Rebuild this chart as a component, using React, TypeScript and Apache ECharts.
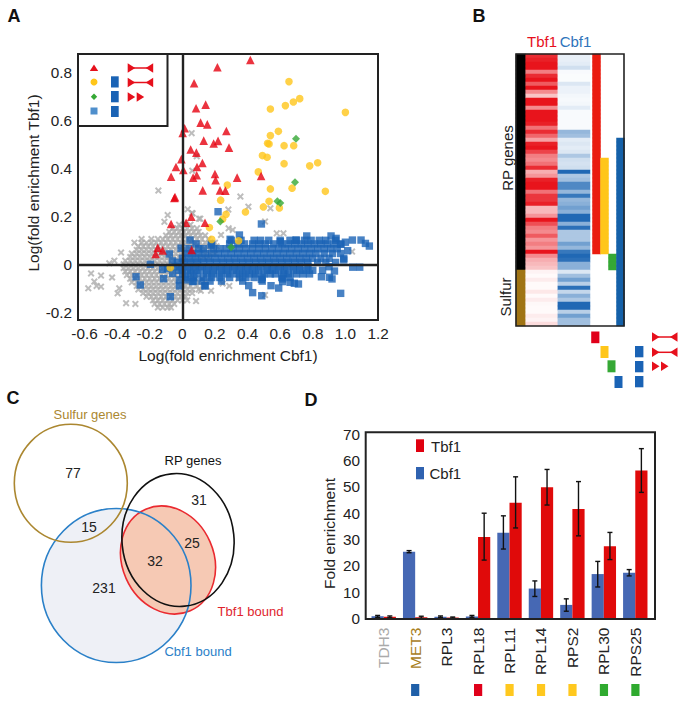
import React, { useEffect, useRef } from "react";
import * as echarts from "echarts";

// ---- Panel A data (log fold enrichment Cbf1, Tbf1) ----
const redPoints = [[.417,.851],[.215,.821],[.072,.754],[.084,.65],[.143,.665],[.112,.59],[.153,.583],[.014,.567],[.002,.547],[.27,.555],[.131,.515],[.192,.503],[.219,.514],[.286,.486],[.051,.478],[.086,.465],[-.006,.438],[.123,.422],[.09,.405],[.006,.393],[.2,.376],[.088,.371],[.066,.361],[.204,.35],[.336,.361],[.483,.368],[.231,.308],[.264,.307],[.125,.308],[.055,.198],[-.039,.405],[-.069,.365],[-.049,.276],[-.045,.28],[-.069,.168],[.023,.173],[.139,.173],[-.151,.069],[-.121,.058],[-.164,.043],[.057,.06]];
const yellowPoints = [[.654,.761],[.54,.647],[.632,.661],[.681,.676],[.72,.69],[1.0,.633],[.589,.554],[.54,.536],[.523,.504],[.532,.501],[.624,.494],[.683,.494],[.491,.453],[.52,.446],[.624,.419],[.781,.41],[.83,.423],[.466,.385],[.276,.33],[.54,.314],[.673,.317],[.877,.304],[.235,.267],[.532,.2625],[.497,.239],[.595,.235],[.387,.218],[.268,.208],[.247,.188],[.166,.153],[.18,.104],[.345,.098],[-.074,-.014]];
const greenPoints = [[.697,.523],[.691,.342],[.583,.2625],[.601,.255],[.233,.178],[.299,.071]];
const blueSingles = [[.219,.219],[.485,.168],[.139,-.089],[.407,-.089],[.431,-.118],[.487,-.131],[.544,-.089],[.591,-.099],[.971,-.121],[.661,-.075],[.687,-.079],[.712,-.082],[.853,-.052],[.902,-.054],[.918,-.061],[.615,-.061],[.615,-.072],[1.045,-.012],[1.088,-.012],[1.147,.076],[1.123,.087],[1.096,.101],[1.043,.101],[1.0,.092],[.973,.083],[1.014,.057],[.99,.018],[.912,.118],[.943,.108],[.763,.118],[.35,.122],[.293,.104],[.601,.094],[.697,.101],[.933,-.028],[.485,-.063],[-.08,.043],[-.061,.014],[-.196,0],[-.121,-.021],[-.09,-.017],[-.06,-.038],[-.018,-.065],[-.018,-.09],[-.284,-.052],[-.258,-.086],[-.115,-.06],[-.074,-.135],[.139,-.09],[.063,-.072],[.023,-.065],[.047,.101],[.084,.085],[-.008,.067],[.176,.08]];
// rows: y, then x values, all in hundredths
const blueRows = [
  [10,30,36,44,48,53,60,66,70,75,79,84,88,94],
  [8.5,18,29,34,38,43,47,51,56,61,65,69,73,77,81,85,89,93,97],
  [6.5,4,10,13,19,23,27,31,35,39,43,47,51,55,59,63,67,71,75,79,83,87,91,95],
  [4.5,2,6,10,14,18,22,26,30,34,38,42,46,50,54,58,62,66,70,74,78,82,87,92,97],
  [2.5,0,4,8,12,16,20,24,28,32,36,40,44,48,52,56,60,64,68,72,76,80,85,90,99],
  [.8,-3,1,5,9,13,17,21,25,29,33,37,41,45,49,53,57,61,65,69,73,77,83,88,94],
  [-1,-4,0,4,8,12,16,20,24,28,32,36,40,44,48,52,56,60,64,68,72,77,90],
  [-2.5,-2,3,7,11,15,19,23,27,31,35,39,43,47,52,55,59,63,68,72,76,80,86],
  [-4,0,5,9,15,19,24,28,33,37,41,45,50,54,57,62,65,70,74,78],
  [-5.5,2,7,13,18,23,29,35,39,44,49,61,66],
  [-7,7,12,17,24,37,49]
];
const grayOutliers = [[-.56,-.038],[-.499,-.047],[-.577,-.1],[-.54,-.072],[-.526,-.09],[-.499,-.093],[-.431,-.055],[-.387,-.1],[-.397,-.121],[-.345,-.162],[-.288,-.165],[.084,-.153],[-.147,.307],[-.09,.205],[-.11,.177],[.033,.229],[.063,.212],[.102,.19],[-.294,.09],[-.376,.049],[-.417,.015],[-.448,.004],[.057,.546],[.088,.45],[.061,.39],[.356,.282],[.282,.228],[.405,.24],[.54,.233],[.059,.214],[.11,.19],[.507,.178],[.579,.129],[.62,.129],[.284,.15],[.309,.143],[.237,.122],[1.041,.053],[.344,-.059],[.247,-.08],[.288,-.09],[.507,-.128],[.176,-.11],[.113,-.11]];
const grayRows = [
  [16.5,-2,1,5],
  [15,-6,-3,0,3,6,9],
  [13.5,-8,-5,-2,1,4,7,10],
  [12,-10,-7,-4,-1,2,5,8,11,14],
  [10.5,-25,-19,-15,-12,-9,-6,-3,0,3,6,9,12,16],
  [9,-25,-22,-19,-16,-13,-10,-7,-4,-1,2,5,8,11,14,17,20],
  [7.5,-27,-24,-21,-18,-15,-12,-9,-6,-3,0,3,6,9,12,15,18,21],
  [6,-28,-25,-22,-19,-16,-13,-10,-7,-4,-1,2,5,8,11,14,17,20],
  [4.5,-31,-28,-25,-22,-19,-16,-13,-10,-7,-4,-1,2,5,8,11,14,17,20],
  [3,-32,-29,-26,-23,-20,-17,-14,-11,-8,-5,-2,1,4,7,10,13,16],
  [1.5,-35,-32,-29,-26,-23,-20,-17,-14,-11,-8,-5,-2,1,4,7,10],
  [0,-36,-33,-30,-27,-24,-21,-18,-15,-12,-9,-6,-3,0,3,6,9],
  [-1.5,-36,-33,-30,-27,-24,-21,-18,-15,-12,-9,-6,-3,0,3,6,9],
  [-3,-35,-32,-29,-26,-23,-20,-17,-14,-11,-8,-5,-2,1,4,7],
  [-4.5,-34,-31,-28,-25,-22,-19,-16,-13,-10,-7,-4,-1,2,5],
  [-6,-32,-29,-26,-23,-20,-17,-14,-11,-8,-5,-2,1,4,8,12],
  [-7.5,-31,-28,-25,-22,-19,-16,-13,-10,-7,-4,-1,3,6,10,14],
  [-9,-28,-25,-22,-19,-16,-13,-10,-7,-4,-1,2,5,9,13],
  [-10.5,-27,-24,-21,-18,-15,-12,-9,-6,-3,0,3,6,10],
  [-12,-24,-21,-18,-15,-12,-9,-6,-3,0,3,6],
  [-13.5,-22,-19,-16,-13,-10,-7,-4,-1,2],
  [-15,-18,-15,-12,-9,-6,-3,0,3],
  [-16.5,-17,-14,-11,-8,-5],
  [-18,-15,-12,-9,-7]
];
const xTicksA = [-.6,-.4,-.2,0,.2,.4,.6,.8,1.0,1.2];
const yTicksA = [-.2,0,.2,.4,.6,.8];

// ---- Panel B data ----
const tbf1Heat = [.9,.95,1,1,.55,.9,1,.7,1,.5,.25,1,1,.5,1,1,1,.95,.6,.9,.65,.4,.95,1,.8,.55,.5,.6,.9,.35,.45,.95,1,1,.6,.85,.85,.95,.3,.3,.45,1,.75,.55,.5,.7,.45,.55,.45,1,.5,.35,.3,.25,.05,.02,.08,.02,.02,.1,.02,.08,.03,.02,.02,.08,.05,.15];
const cbf1Heat = [.1,.1,.12,.2,.03,.02,.02,.15,.08,.08,.05,.04,.05,.12,.03,.03,.03,.03,.03,.45,.4,.12,.15,.12,.15,.35,.2,.18,.2,.95,.35,.4,.75,.75,.45,.85,.45,.5,.6,.5,.95,.95,.5,.9,.35,.35,.35,.6,.45,.85,.95,.9,.5,.5,.15,.4,.6,.3,.9,.25,.5,.35,.95,.95,.3,.6,.4,.4];
const rowIds = tbf1Heat.map((_, i) => String(i));
const stripRanges = [[0, 53, 1], [54, 67, 2]];
const memberRanges = [[0, 0, 49, 3], [1, 26, 49, 4], [2, 50, 53, 5], [3, 21, 67, 6]];

// ---- Panel D data ----
const genes = ["TDH3","MET3","RPL3","RPL18","RPL11","RPL14","RPS2","RPL30","RPS25"];
const geneColors = ["#aaaaaa","#a8801e","#222222","#222222","#222222","#222222","#222222","#222222","#222222"];
const chipColors = ["","#1f5fa8","","#e0001a","#ffc81e","#ffc81e","#ffc81e","#2faa2f","#2faa2f"];
const cbf1Values = [.9,25.4,.7,.8,32.6,11.4,5.2,16.9,17.4];
const tbf1Values = [.7,.5,.4,31,44,49.8,41.6,27.5,56.2];
const cbf1Low = [.5,25,.4,.5,26.4,8.4,2.8,12,16.2];
const cbf1High = [1.2,25.8,1,1.2,39,14.3,7.5,21.7,18.6];
const tbf1Low = [.3,.1,.2,22.2,34.4,43.1,31.4,22.4,47.9];
const tbf1High = [1,.9,.6,40,53.8,56.6,52,32.7,64.5];
const yTicksD = [0,10,20,30,40,50,60,70];

const FONT = "Liberation Sans";
const INK = "#222222";
const RED = "#e6101c";
const BLUE = "#1a63b5";
const YELLOW = "#ffc61a";
const GREEN = "#35a835";

const fromRows = (rows: number[][]) =>
  rows.flatMap((r) => r.slice(1).map((x) => [x / 100, r[0] / 100]));

const XMARK = "path://M2 0L5 3L8 0L10 2L7 5L10 8L8 10L5 7L2 10L0 8L3 5L0 2Z";

function text(x: number, y: number, t: string, size: number, color = INK, extra: any = {}) {
  const { rotation, weight, align } = extra;
  return {
    type: "text", x, y, rotation: rotation || 0, z: 100,
    style: { text: t, fontSize: size, fontFamily: FONT, fontWeight: weight || "normal", fill: color, align: align || "center", verticalAlign: "middle" }
  };
}
function rect(x: number, y: number, w: number, h: number, fill: string) {
  return { type: "rect", z: 100, shape: { x, y, width: w, height: h }, style: { fill } };
}
function box(x: number, y: number, w: number, h: number, lw = 2, fill = "none") {
  return { type: "rect", z: 95, shape: { x, y, width: w, height: h }, style: { fill, stroke: INK, lineWidth: lw } };
}
function tri(x0: number, x1: number, yc: number, h: number) {
  return { type: "polygon", z: 100, shape: { points: [[x0, yc - h / 2], [x0, yc + h / 2], [x1, yc]] }, style: { fill: RED } };
}
function motif(x: number, y1: number, y2: number, y3: number) {
  const out: any[] = [];
  [y1, y2].forEach((y) => {
    out.push(tri(x, x + 7.5, y, 9.5), tri(x + 25.5, x + 18, y, 9.5));
    out.push({ type: "line", z: 100, shape: { x1: x + 4, y1: y, x2: x + 22, y2: y }, style: { stroke: RED, lineWidth: 1.5 } });
  });
  out.push(tri(x, x + 7.5, y3, 9.5), tri(x + 9, x + 16.5, y3, 9.5));
  return out;
}
function ell(cx: number, cy: number, rx: number, ry: number, rot: number, stroke: string, fill = "none", lw = 1.6) {
  return { type: "ellipse", z: 90, x: cx, y: cy, rotation: rot, shape: { cx: 0, cy: 0, rx, ry }, style: { stroke, fill, lineWidth: lw } };
}

function buildOption() {
  const bandD = 31.46;
  const graphic: any[] = [
    text(14, 16, "A", 18, "#111", { weight: "bold" }),
    text(479, 16, "B", 18, "#111", { weight: "bold" }),
    text(13, 398, "C", 18, "#111", { weight: "bold" }),
    text(311, 400, "D", 18, "#111", { weight: "bold" }),
    // panel A inset legend
    box(78, 54, 89.5, 72, 2, "#ffffff"),
    { type: "polygon", z: 100, shape: { points: [[94, 64.5], [89.8, 71], [98.2, 71]] }, style: { fill: RED } },
    { type: "circle", z: 100, shape: { cx: 94, cy: 82, r: 3.5 }, style: { fill: YELLOW } },
    { type: "polygon", z: 100, shape: { points: [[94, 93.5], [97.2, 96.7], [94, 100], [90.8, 96.7]] }, style: { fill: GREEN } },
    rect(90.5, 107.5, 7, 7, "#4f8fcc"),
    rect(111, 76.3, 7.7, 11.2, BLUE), rect(111, 91, 7.7, 11.3, BLUE), rect(111, 106, 7.7, 11, BLUE),
    ...motif(127.7, 68, 82.5, 97),
    // panel B
    text(542, 41, "Tbf1", 15, RED),
    text(575.5, 41, "Cbf1", 15, "#2f74bb"),
    text(507, 158, "RP genes", 15, INK, { rotation: Math.PI / 2 }),
    text(505.5, 297, "Sulfur", 15, INK, { rotation: Math.PI / 2 }),
    box(516, 54, 108, 272, 1.6),
    rect(591.2, 331.5, 8.2, 11.7, "#e0001a"),
    rect(600.5, 346, 8, 12, YELLOW),
    rect(607.5, 360.3, 8, 12, GREEN),
    rect(614.5, 376, 8, 12, BLUE),
    rect(635, 346, 8.4, 11.3, BLUE), rect(635, 361, 8.4, 11.3, BLUE), rect(635, 376, 8.4, 11.3, BLUE),
    ...motif(652, 337, 352.3, 366.3),
    // panel C
    ell(116.2, 585.5, 74.8, 77, 0, "none", "#eef0f6", 0),
    ell(168, 560, 45.8, 55.4, 0.414, "#ea2a30", "#f6c9b4", 1.6),
    ell(116.2, 585.5, 74.8, 77, 0, "#2a80c8"),
    ell(178, 540, 56, 66.5, 0.1, "#111111"),
    ell(70.8, 483.3, 56.5, 59, 0, "#ab8730"),
    text(90, 414, "Sulfur genes", 13, "#ab8730"),
    text(193, 460, "RP genes", 13, "#111"),
    text(250.5, 611, "Tbf1 bound", 13, "#e0242c"),
    text(198, 651, "Cbf1 bound", 13, "#2a80c8"),
    text(73, 473, "77", 14), text(89, 527, "15", 14), text(104, 588, "231", 14),
    text(155, 561, "32", 14), text(192, 543, "25", 14), text(199, 500, "31", 14),
    // panel D
    box(365.7, 432.3, 289.3, 186.7, 2),
    rect(416, 439.3, 8, 12.7, "#e0000f"), text(431, 446, "Tbf1", 15, INK, { align: "left" }),
    rect(416, 467, 8, 12.3, "#2f62b0"), text(429.5, 473.5, "Cbf1", 15, INK, { align: "left" })
  ];
  chipColors.forEach((c, i) => {
    if (c) graphic.push(rect(368 + bandD * (i + 0.5) - 4.1, 684, 8.2, 12, c));
  });

  const hiddenCat = (gridIndex: number, data: string[], inverse = false) => ({
    type: "category", gridIndex, data, show: false, inverse
  });

  const series: any[] = [
    { type: "scatter", xAxisIndex: 0, yAxisIndex: 0, symbol: XMARK, symbolSize: 7, itemStyle: { color: "#adadad" }, data: [...fromRows(grayRows), ...grayOutliers] },
    { type: "scatter", xAxisIndex: 0, yAxisIndex: 0, symbol: "rect", symbolSize: 7.4, itemStyle: { color: BLUE }, data: [...fromRows(blueRows), ...blueSingles] },
    { type: "scatter", xAxisIndex: 0, yAxisIndex: 0, symbol: "circle", symbolSize: 7.6, itemStyle: { color: YELLOW }, data: yellowPoints },
    { type: "scatter", xAxisIndex: 0, yAxisIndex: 0, symbol: "triangle", symbolSize: 8.6, itemStyle: { color: "#e6000f" }, data: redPoints },
    {
      type: "scatter", xAxisIndex: 0, yAxisIndex: 0, symbol: "diamond", symbolSize: 8, itemStyle: { color: GREEN }, data: greenPoints,
      markLine: {
        silent: true, symbol: "none", label: { show: false }, animation: false,
        lineStyle: { color: INK, width: 2.4, type: "solid" },
        data: [{ xAxis: 0 }, { yAxis: 0 }]
      }
    },
    {
      type: "heatmap", xAxisIndex: 1, yAxisIndex: 1,
      data: stripRanges.flatMap(([a, b, v]) => rowIds.slice(a, b + 1).map((r) => [0, r, v]))
    },
    { type: "heatmap", xAxisIndex: 2, yAxisIndex: 2, data: tbf1Heat.map((v, i) => [0, String(i), v]) },
    { type: "heatmap", xAxisIndex: 2, yAxisIndex: 2, data: cbf1Heat.map((v, i) => [1, String(i), v]) },
    {
      type: "heatmap", xAxisIndex: 3, yAxisIndex: 3,
      data: memberRanges.flatMap(([c, a, b, v]) => rowIds.slice(a, b + 1).map((r) => [c, r, v]))
    },
    { type: "bar", xAxisIndex: 4, yAxisIndex: 4, barWidth: "38.8%", barGap: 0, itemStyle: { color: "#4668b4" }, data: cbf1Values },
    { type: "bar", xAxisIndex: 4, yAxisIndex: 4, barWidth: "38.8%", barGap: 0, itemStyle: { color: "#e00a0a" }, data: tbf1Values },
    {
      type: "custom", xAxisIndex: 4, yAxisIndex: 4, z: 5,
      data: [
        ...genes.map((_, i) => [i, cbf1Low[i], cbf1High[i], -1]),
        ...genes.map((_, i) => [i, tbf1Low[i], tbf1High[i], 1])
      ],
      renderItem: (_p: any, api: any) => {
        const c = api.value(0);
        const lo = api.coord([c, api.value(1)]);
        const hi = api.coord([c, api.value(2)]);
        const x = lo[0] + api.value(3) * api.size([1, 0])[0] * 0.194;
        const st = { stroke: "#111111", lineWidth: 1.4 };
        return {
          type: "group",
          children: [
            { type: "line", shape: { x1: x, y1: lo[1], x2: x, y2: hi[1] }, style: st },
            { type: "line", shape: { x1: x - 2.5, y1: lo[1], x2: x + 2.5, y2: lo[1] }, style: st },
            { type: "line", shape: { x1: x - 2.5, y1: hi[1], x2: x + 2.5, y2: hi[1] }, style: st }
          ]
        };
      }
    }
  ];

  return {
    animation: false,
    backgroundColor: "#ffffff",
    textStyle: { fontFamily: FONT },
    grid: [
      { left: 78, top: 54, width: 300, height: 266, show: true, borderColor: INK, borderWidth: 2, backgroundColor: "transparent" },
      { left: 516, top: 54, width: 9.7, height: 272 },
      { left: 525.7, top: 54, width: 64.3, height: 272 },
      { left: 592.5, top: 54, width: 32, height: 272 },
      { left: 368, top: 432.3, width: 283, height: 186.3 }
    ],
    xAxis: [
      {
        type: "value", gridIndex: 0, min: -0.64, max: 1.2,
        name: "Log(fold enrichment Cbf1)", nameLocation: "middle", nameGap: 27,
        nameTextStyle: { fontSize: 15.5, color: INK, fontFamily: FONT },
        axisLine: { show: false, onZero: false }, axisTick: { show: false }, splitLine: { show: false },
        axisLabel: { customValues: xTicksA, margin: 6, fontSize: 15.3, color: INK, fontFamily: FONT, hideOverlap: false, showMinLabel: true, showMaxLabel: true, formatter: (v: number) => (Math.abs(v - 1) < 1e-6 ? "1.0" : String(Number(v.toFixed(1)))) }
      },
      hiddenCat(1, ["strip"]),
      hiddenCat(2, ["Tbf1", "Cbf1"]),
      hiddenCat(3, ["Tbf1", "yellow", "green", "Cbf1"]),
      {
        type: "category", gridIndex: 4,
        data: genes.map((g, i) => ({ value: g, textStyle: { color: geneColors[i] } })),
        axisLine: { show: false }, axisTick: { show: false },
        axisLabel: { rotate: 90, margin: 9, fontSize: 15.5, fontFamily: FONT, interval: 0 }
      }
    ],
    yAxis: [
      {
        type: "value", gridIndex: 0, min: -0.232, max: 0.876,
        name: "Log(fold enrichment Tbf1)", nameLocation: "middle", nameGap: 36, nameRotate: 90,
        nameTextStyle: { fontSize: 15.5, color: INK, fontFamily: FONT, padding: [0, 0, 0, 8] },
        axisLine: { show: false, onZero: false }, axisTick: { show: false }, splitLine: { show: false },
        axisLabel: { customValues: yTicksA, margin: 6, fontSize: 15.3, color: INK, fontFamily: FONT, formatter: (v: number) => String(Number(v.toFixed(1))) }
      },
      hiddenCat(1, rowIds, true),
      hiddenCat(2, rowIds, true),
      hiddenCat(3, rowIds, true),
      {
        type: "value", gridIndex: 4, min: 0, max: 70.7,
        name: "Fold enrichment", nameLocation: "middle", nameGap: 31, nameRotate: 90,
        nameTextStyle: { fontSize: 15.5, color: INK, fontFamily: FONT, padding: [0, 16, 0, 0] },
        axisLine: { show: false }, axisTick: { show: false }, splitLine: { show: false },
        axisLabel: { customValues: yTicksD, margin: 8, fontSize: 15.3, color: INK, fontFamily: FONT }
      }
    ],
    visualMap: [
      {
        type: "piecewise", show: false, seriesIndex: [5, 8],
        pieces: [
          { value: 1, color: "#000000" }, { value: 2, color: "#a07414" },
          { value: 3, color: "#ea1c10" }, { value: 4, color: YELLOW },
          { value: 5, color: GREEN }, { value: 6, color: "#1460a8" }
        ]
      },
      { type: "continuous", show: false, seriesIndex: 6, min: 0, max: 1, inRange: { color: ["#ffffff", "#e8141c"] } },
      { type: "continuous", show: false, seriesIndex: 7, min: 0, max: 1, inRange: { color: ["#ffffff", "#1460b0"] } }
    ],
    series,
    graphic
  };
}

export default function App() {
  const ref = useRef<HTMLDivElement>(null);
  useEffect(() => {
    const chart = echarts.init(ref.current!, undefined, { renderer: "svg" });
    chart.setOption(buildOption() as any);
    return () => chart.dispose();
  }, []);
  return <div ref={ref} style={{ position: "absolute", left: 0, top: 0, width: 684, height: 704 }} />;
}
